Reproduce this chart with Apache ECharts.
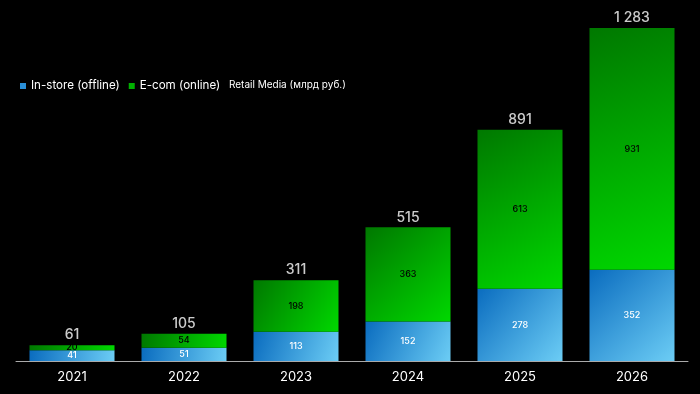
<!DOCTYPE html>
<html><head><meta charset="utf-8">
<script src="https://cdn.jsdelivr.net/npm/echarts@6/dist/echarts.min.js"></script>
<style>html,body{margin:0;padding:0;background:#000}#c{width:700px;height:394px}</style>
</head><body><div id="c"></div>
<script>
const categories = ['2021','2022','2023','2024','2025','2026'];
const inStore = [41, 51, 113, 152, 278, 352];
const eCom = [20, 54, 198, 363, 613, 931];
const totals = [61, 105, 311, 515, 891, 1283];
const font = 'Inter';
const chart = echarts.init(document.getElementById('c'));
const blueGrad = new echarts.graphic.LinearGradient(0,0,1,1,[{offset:0,color:'#0a6cbf'},{offset:1,color:'#6ccdf5'}]);
const greenGrad = new echarts.graphic.LinearGradient(0,0,1,1,[{offset:0,color:'#007800'},{offset:1,color:'#00d800'}]);
chart.setOption({
  backgroundColor:'#000',
  animation:false,
  textStyle:{fontFamily:font},
  legend:{left:20, top:80, padding:0, icon:'rect', itemWidth:6, itemHeight:6, itemGap:9,
    textStyle:{color:'#fff', fontSize:11.6, fontFamily:font},
    data:[{name:'In-store (offline)', itemStyle:{color:'#2a8fd8'}},{name:'E-com (online)', itemStyle:{color:'#00b000'}}]},
  graphic:[{type:'text', left:229, top:80, style:{text:'Retail Media (млрд руб.)', fill:'#fff', font:'10px Inter'}}],
  grid:{left:16, right:12, top:28, bottom:33},
  xAxis:{type:'category', data:categories,
    axisLine:{lineStyle:{color:'#aaa', width:1}}, axisTick:{show:false},
    axisLabel:{color:'#fff', fontSize:13, margin:10, fontFamily:font}},
  yAxis:{type:'value', min:0, max:1283, show:false, splitLine:{show:false}},
  series:[
    {name:'In-store (offline)', type:'bar', stack:'a', barWidth:85, data:inStore,
      itemStyle:{color:blueGrad},
      label:{show:true, position:'inside', color:'#fff', fontSize:9, fontWeight:500, fontFamily:font}},
    {name:'E-com (online)', type:'bar', stack:'a', barWidth:85, data:eCom,
      itemStyle:{color:greenGrad},
      label:{show:true, position:'inside', color:'#000', fontSize:9, fontWeight:500, fontFamily:font}},
    {name:'total', type:'scatter', data:totals, symbolSize:0,
      label:{show:true, position:'top', distance:3, color:'#fff', fontSize:14, fontWeight:500, fontFamily:font,
        formatter:p=>String(p.value).replace(/\B(?=(\d{3})+(?!\d))/g,' ')}}
  ]
});
</script></body></html>
